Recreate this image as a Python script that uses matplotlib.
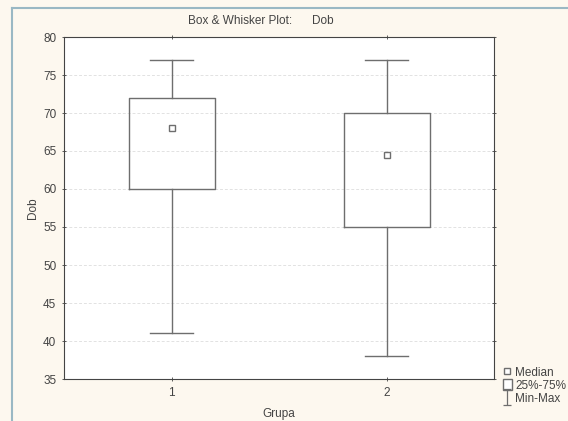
import matplotlib.pyplot as plt
from matplotlib.lines import Line2D
from matplotlib.patches import Rectangle
from matplotlib.path import Path

plt.rcParams['font.family'] = ['Liberation Sans', 'DejaVu Sans']

# Datos
grupos = ['1', '2']
minimos = [41, 38]
q1 = [60, 55]
medianas = [68, 64.5]
q3 = [72, 70]
maximos = [77, 77]

fondo = '#fdf8ef'
gris = '#6e6e6e'
texto = '#444444'

fig = plt.figure(figsize=(5.68, 4.21), dpi=100, facecolor=fondo)
ax = fig.add_axes([64 / 568, 1 - 379 / 421, 430 / 568, 342 / 421])
ax.set_facecolor('white')

stats = []
for i in range(len(grupos)):
    stats.append({'whislo': minimos[i], 'q1': q1[i], 'med': medianas[i],
                  'q3': q3[i], 'whishi': maximos[i], 'label': grupos[i]})

ax.bxp(stats, positions=[1, 2], widths=0.4, showfliers=False,
       boxprops=dict(color=gris, linewidth=1),
       whiskerprops=dict(color=gris, linewidth=1),
       capprops=dict(color=gris, linewidth=1),
       medianprops=dict(linestyle='none'),
       capwidths=0.2)
ax.plot([1, 2], medianas, linestyle='none', marker='s', markersize=4,
        markerfacecolor='white', markeredgecolor=gris, markeredgewidth=1)

ax.set_xlim(0.5, 2.5)
ax.set_ylim(35, 80)
ax.set_yticks(range(35, 81, 5))
ax.set_xticks([1, 2])
ax.set_xticklabels(grupos)
ax.yaxis.grid(True, linestyle=(0, (3, 2)), color='#e2e2e2', linewidth=0.7)
ax.tick_params(labelsize=8.5, colors=texto, direction='inout', length=3,
               width=0.6, right=True, top=True, pad=4)
for s in ax.spines.values():
    s.set_color(texto)
    s.set_linewidth(0.8)

ax.set_xlabel('Grupa', fontsize=8.5, color=texto, labelpad=7)
ax.set_ylabel('Dob', fontsize=8.5, color=texto, labelpad=3)
fig.text(188 / 568, 1 - 21 / 421, 'Box & Whisker Plot:', fontsize=8.5,
         color=texto, va='center')
fig.text(312 / 568, 1 - 21 / 421, 'Dob', fontsize=8.5, color=texto, va='center')

# Marco azul de la ventana
fig.add_artist(Line2D([12 / 568, 12 / 568], [0, 1 - 8 / 421], color='#9ab8c4',
                      linewidth=1.5, transform=fig.transFigure))
fig.add_artist(Line2D([12 / 568, 1], [1 - 8 / 421, 1 - 8 / 421], color='#9ab8c4',
                      linewidth=1.5, transform=fig.transFigure))

# Leyenda
viga = Path([(-0.5, -1), (0.5, -1), (0, -1), (0, 1), (-0.5, 1), (0.5, 1)],
            [Path.MOVETO, Path.LINETO, Path.MOVETO, Path.LINETO,
             Path.MOVETO, Path.LINETO])
handles = [
    Line2D([], [], linestyle='none', marker='s', markersize=4,
           markerfacecolor='white', markeredgecolor=gris),
    Rectangle((0, 0), 1, 1, facecolor='white', edgecolor=gris),
    Line2D([], [], linestyle='none', marker=viga, markersize=11,
           markeredgewidth=0.9, color=gris, markerfacecolor='none'),
]
fig.legend(handles, ['Median', '25%-75%', 'Min-Max'], loc='lower left',
           bbox_to_anchor=(495 / 568, 1 - 413 / 421), frameon=False,
           fontsize=8.5, handlelength=0.7, handleheight=1.0,
           handletextpad=0.3, labelspacing=0.05,
           borderpad=0.2, labelcolor=texto)

plt.savefig('out.png', dpi=100, facecolor=fondo)
